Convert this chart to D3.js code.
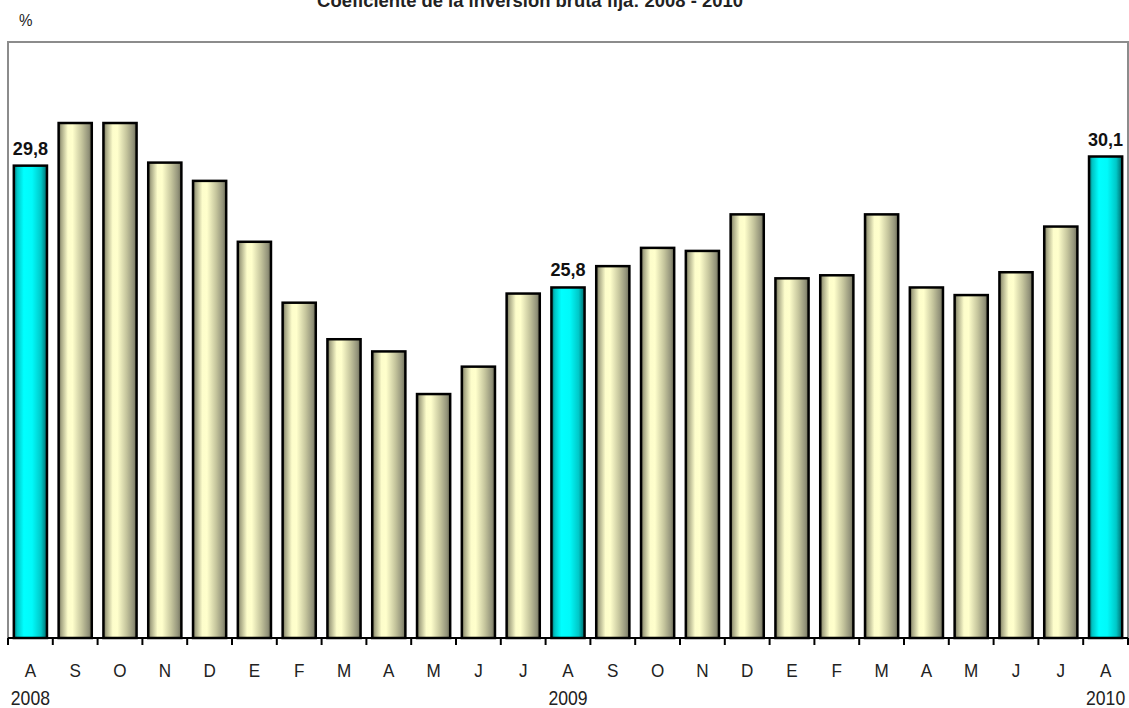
<!DOCTYPE html>
<html><head><meta charset="utf-8">
<script src="https://cdn.jsdelivr.net/npm/d3@7"></script>
<style>body{margin:0;background:#fff}svg{display:block}</style>
</head><body>
<svg id="c" width="1129" height="708"></svg>
<script>
const months = ["A","S","O","N","D","E","F","M","A","M","J","J","A","S","O","N","D","E","F","M","A","M","J","J","A"];
const values = [29.8,31.2,31.2,29.9,29.3,27.3,25.3,24.1,23.7,22.3,23.2,25.6,25.8,26.5,27.1,27.0,28.2,26.1,26.2,28.2,25.8,25.55,26.3,27.8,30.1];
const highlighted = [0,12,24];
const yearLabels = [{i:0,t:"2008"},{i:12,t:"2009"},{i:24,t:"2010"}];
const title = "Coeficiente de la inversión bruta fija: 2008 - 2010";
const unit = "%";

(function(){
const svg = d3.select("#c");
const pl=8,pr=1128,pt=42,pb=638;
const idx = d3.range(months.length);
const x = d3.scaleBand().domain(idx).range([pl,pr]).paddingInner(0.26).paddingOuter(0.13);
const y = d3.scaleLinear().domain([14.29,33.86]).range([pb,pt]);
const font = "'Liberation Sans',Arial,sans-serif";

const defs = svg.append("defs");
function grad(id, stops){
  const g = defs.append("linearGradient").attr("id",id).attr("x1","0").attr("x2","1").attr("y1","0").attr("y2","0");
  stops.forEach(s=>g.append("stop").attr("offset",s[0]).attr("stop-color",s[1]));
}
grad("gc",[[0,"#66664e"],[0.08,"#a6a684"],[0.28,"#fdfdcb"],[0.42,"#ffffcc"],[0.7,"#c4c49c"],[0.9,"#93937a"],[1,"#6a6a54"]]);
grad("gb",[[0,"#006e6e"],[0.1,"#00c4c4"],[0.3,"#00ffff"],[0.55,"#00fafa"],[0.82,"#00c8c8"],[1,"#006a6a"]]);

function ctext(sel, cls, data, fx, fy, txt, opts){
  return sel.selectAll("text."+cls).data(data).join("text").attr("class",cls)
    .attr("transform",(d,i)=>`translate(${fx(d,i)},${fy(d,i)}) scale(${opts.sx},1)`)
    .attr("text-anchor",opts.anchor||"middle")
    .attr("font-family",font).attr("font-size",opts.size).attr("font-weight",opts.weight||"normal")
    .attr("fill",opts.fill||"#222").text(txt);
}

ctext(svg,"title",[title],()=>530,()=>7,d=>d,{sx:0.97,size:19,weight:"bold",fill:"#222"});
ctext(svg,"unit",[unit],()=>19,()=>26,d=>d,{sx:0.95,size:16,anchor:"start"});

svg.append("rect").attr("x",pl).attr("y",pt).attr("width",pr-pl).attr("height",pb-pt)
  .attr("fill","none").attr("stroke","#8c8c8c").attr("stroke-width",2);

svg.selectAll("rect.bar").data(values).join("rect").attr("class","bar")
  .attr("x",(d,i)=>x(i)).attr("width",x.bandwidth())
  .attr("y",d=>y(d)).attr("height",d=>pb-y(d))
  .attr("fill",(d,i)=>highlighted.includes(i)?"url(#gb)":"url(#gc)")
  .attr("stroke","#000").attr("stroke-width",2.5);

svg.append("line").attr("x1",pl).attr("x2",pr).attr("y1",pb).attr("y2",pb).attr("stroke","#000").attr("stroke-width",2);
const step = x.step();
const tickX = d3.range(months.length+1).map(i=> i===months.length ? pr : x(i)-x.paddingInner()*step/2);
svg.selectAll("line.tick").data(tickX).join("line").attr("class","tick")
  .attr("x1",d=>d).attr("x2",d=>d).attr("y1",pb).attr("y2",pb+7).attr("stroke","#000").attr("stroke-width",2);

const cx = i=>x(i)+x.bandwidth()/2;
ctext(svg,"m",months,(d,i)=>cx(i),()=>677,d=>d,{sx:0.9,size:19});
ctext(svg,"yr",yearLabels,d=>cx(d.i),()=>705,d=>d.t,{sx:0.88,size:20});
ctext(svg,"v",highlighted,i=>cx(i),i=>y(values[i])-11,i=>d3.format(".1f")(values[i]).replace(".",","),
  {sx:0.95,size:19,weight:"bold",fill:"#111"});
})();
</script>
</body></html>
